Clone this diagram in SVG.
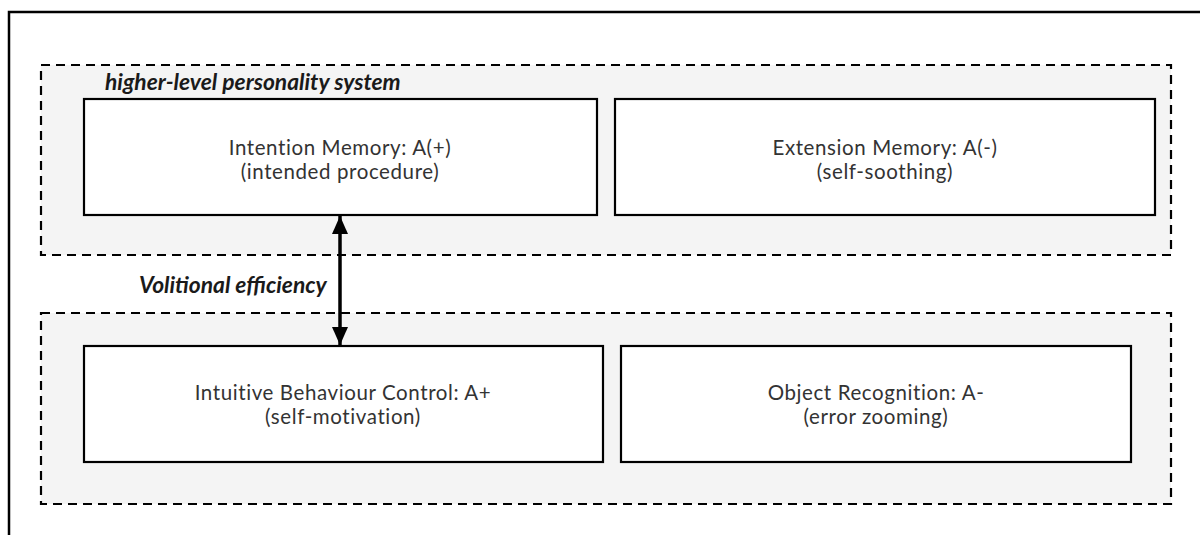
<svg xmlns="http://www.w3.org/2000/svg" width="1200" height="535" viewBox="0 0 1200 535">
  <defs>
    <marker id="head" viewBox="0 0 18 16" refX="18" refY="8" markerWidth="18" markerHeight="16" markerUnits="userSpaceOnUse" orient="auto-start-reverse">
      <path d="M0,0 L18,8 L0,16 Z" fill="#000"/>
    </marker>
    <style>
      .frame { fill: #fff; stroke: #000; stroke-width: 2.5; }
      .group { fill: #f4f4f4; stroke: #000; stroke-width: 2.2; stroke-dasharray: 9 6; }
      .box { fill: #fff; stroke: #000; stroke-width: 2.2; }
      .lbl { font-family: Lato, "Open Sans", "Liberation Sans", sans-serif; font-size: 20.5px; letter-spacing: 0.6px; fill: #333; text-anchor: middle; }
      .title { font-family: Lato, "Open Sans", "Liberation Sans", sans-serif; font-size: 22.8px; font-weight: bold; font-style: italic; fill: #1a1a1a; }
      .conn { stroke: #000; stroke-width: 3.5; fill: none; }
    </style>
  </defs>

  <rect width="1200" height="535" fill="#fff"/>
  <!-- outer frame, running off the right and bottom edges -->
  <rect class="frame" x="9" y="12" width="1220" height="560"/>

  <!-- upper layer -->
  <g id="higher-level-system">
    <rect class="group" x="41" y="65" width="1130" height="190"/>
    <text class="title" x="105" y="90">higher-level personality system</text>
  </g>
  <g id="intention-memory">
    <rect class="box" x="84" y="99" width="513" height="116"/>
    <text class="lbl" x="340" y="155">Intention Memory: A(+)</text>
    <text class="lbl" x="340" y="179">(intended procedure)</text>
  </g>
  <g id="extension-memory">
    <rect class="box" x="615" y="99" width="540" height="116"/>
    <text class="lbl" x="885" y="155">Extension Memory: A(-)</text>
    <text class="lbl" x="885" y="179">(self-soothing)</text>
  </g>

  <!-- lower layer -->
  <g id="lower-level-system">
    <rect class="group" x="41" y="313" width="1130" height="191"/>
  </g>
  <g id="intuitive-behaviour-control">
    <rect class="box" x="84" y="346" width="519" height="116"/>
    <text class="lbl" x="343" y="400">Intuitive Behaviour Control: A+</text>
    <text class="lbl" x="343" y="424">(self-motivation)</text>
  </g>
  <g id="object-recognition">
    <rect class="box" x="621" y="346" width="510" height="116"/>
    <text class="lbl" x="876" y="400">Object Recognition: A-</text>
    <text class="lbl" x="876" y="424">(error zooming)</text>
  </g>

  <!-- connectors -->
  <g id="connectors">
    <line class="conn" x1="340" y1="216" x2="340" y2="345" marker-start="url(#head)" marker-end="url(#head)"/>
    <text class="title" x="139" y="293">Volitional efficiency</text>
  </g>
</svg>
